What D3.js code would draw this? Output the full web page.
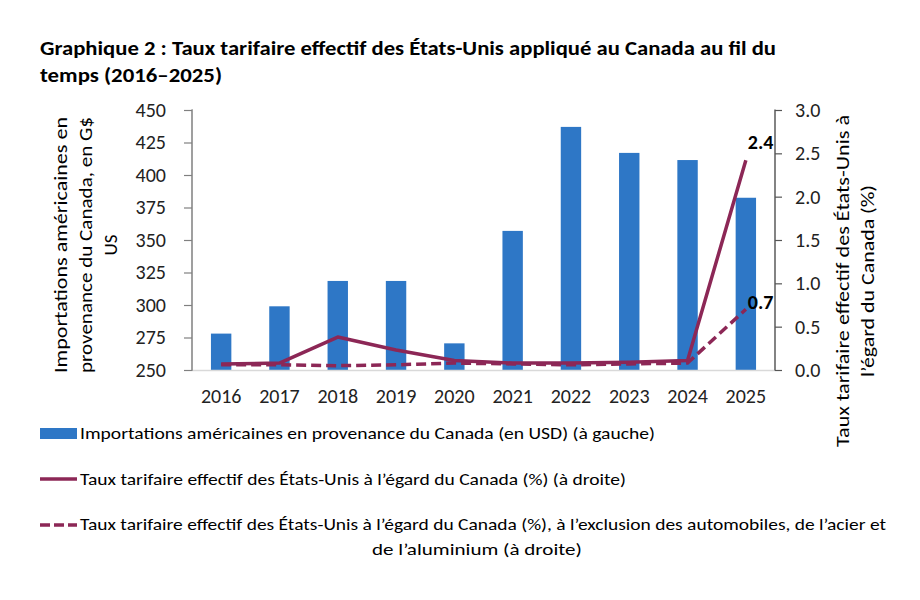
<!DOCTYPE html>
<html><head><meta charset="utf-8">
<script src="https://cdn.jsdelivr.net/npm/d3@7"></script>
<style>body{margin:0;background:#fff} svg{display:block}</style>
</head><body>
<svg id="c" width="920" height="600"></svg>
<script>
// ---- data ----
const years = ["2016","2017","2018","2019","2020","2021","2022","2023","2024","2025"];
const imports = [278, 299, 318.5, 318.5, 270.5, 357, 437, 417, 411.5, 382.5];
const tariff = [0.07, 0.08, 0.38, 0.23, 0.11, 0.08, 0.08, 0.09, 0.11, 2.42];
const tariffExcl = [0.06, 0.06, 0.05, 0.06, 0.08, 0.07, 0.06, 0.07, 0.08, 0.70];
const leftTicks = [250, 275, 300, 325, 350, 375, 400, 425, 450];
const rightTicks = [0, 0.5, 1.0, 1.5, 2.0, 2.5, 3.0];
const endLabels = ["2.4", "0.7"];
const titleLines = ["Graphique 2 : Taux tarifaire effectif des États-Unis appliqué au Canada au fil du", "temps (2016–2025)"];
const leftTitle = ["Importations américaines en", "provenance du Canada, en G$", "US"];
const rightTitle = ["Taux tarifaire effectif des États-Unis à", "l’égard du Canada (%)"];
const legendLabels = [
  "Importations américaines en provenance du Canada (en USD) (à gauche)",
  "Taux tarifaire effectif des États-Unis à l’égard du Canada (%) (à droite)",
  "Taux tarifaire effectif des États-Unis à l’égard du Canada (%), à l’exclusion des automobiles, de l’acier et",
  "de l’aluminium (à droite)"
];

(function () {
// ---- style ----
const FONT = "Carlito, 'Open Sans', sans-serif";
const BAR = "#2E77C6";
const LINE = "#8C2756";
const TICK_FS = 20;
const svg = d3.select("#c").style("font-family", FONT);

const pL = 192, pR = 775, pT = 110, pB = 370;
const x = d3.scaleBand().domain(years).range([pL, pR]).paddingInner(0.65).paddingOuter(0.325);
const xc = d => x(d) + x.bandwidth() / 2;
const yL = d3.scaleLinear().domain([250, 450]).range([pB, pT]);
const yR = d3.scaleLinear().domain([0, 3]).range([pB, pT]);

// title
svg.append("text").attr("x", 40).attr("y", 55).attr("font-weight", "bold").attr("font-size", 19.5)
  .attr("textLength", 736).attr("lengthAdjust", "spacingAndGlyphs").attr("fill", "#000").text(titleLines[0]);
svg.append("text").attr("x", 40).attr("y", 82).attr("font-weight", "bold").attr("font-size", 19.5)
  .attr("textLength", 182).attr("lengthAdjust", "spacingAndGlyphs").attr("fill", "#000").text(titleLines[1]);

// bars
svg.append("g").selectAll("rect").data(years).join("rect")
  .attr("x", d => x(d)).attr("width", x.bandwidth())
  .attr("y", (d, i) => yL(imports[i])).attr("height", (d, i) => pB - yL(imports[i]))
  .attr("fill", BAR);

// x axis baseline
svg.append("line").attr("x1", pL).attr("x2", pR).attr("y1", pB + 0.5).attr("y2", pB + 0.5)
  .attr("stroke", "#d9d9d9").attr("stroke-width", 1.5);

// left axis
const gL = svg.append("g").attr("transform", `translate(${pL},0)`)
  .call(d3.axisLeft(yL).tickValues(leftTicks).tickSize(8).tickPadding(18).tickFormat(d3.format("d")));
gL.select(".domain").attr("stroke", "#808080").attr("stroke-width", 1.5).attr("d", `M-0.5,${pT}H0V${pB}H-0.5`);
gL.selectAll(".tick line").attr("stroke", "#808080").attr("stroke-width", 1.2);
gL.selectAll(".tick text").attr("font-size", TICK_FS).attr("fill", "#222").style("font-family", FONT);

// right axis
const gR = svg.append("g").attr("transform", `translate(${pR},0)`)
  .call(d3.axisRight(yR).tickValues(rightTicks).tickSize(7).tickPadding(13).tickFormat(d3.format(".1f")));
gR.select(".domain").attr("stroke", "#333").attr("stroke-width", 1.2).attr("d", `M0.5,${pT}H0V${pB}H0.5`);
gR.selectAll(".tick line").attr("stroke", "#555").attr("stroke-width", 1.2);
gR.selectAll(".tick text").attr("font-size", TICK_FS).attr("fill", "#222").style("font-family", FONT);

// x axis labels
const gX = svg.append("g").attr("transform", `translate(0,${pB})`)
  .call(d3.axisBottom(x).tickSize(0).tickPadding(19));
gX.select(".domain").remove();
gX.selectAll(".tick text").attr("font-size", TICK_FS).attr("fill", "#222").style("font-family", FONT);

// lines
const lineGen = d3.line().x((d, i) => xc(years[i])).y(d => yR(d));
svg.append("path").datum(tariff).attr("d", lineGen).attr("fill", "none")
  .attr("stroke", LINE).attr("stroke-width", 3.5).attr("stroke-linejoin", "round");
svg.append("path").datum(tariffExcl).attr("d", lineGen).attr("fill", "none")
  .attr("stroke", LINE).attr("stroke-width", 3.5).attr("stroke-dasharray", "10,5");

// end labels
const last = years.length - 1;
const labelOffsets = [[2, -11], [2, 0]];
[tariff, tariffExcl].forEach((s, k) => {
  svg.append("text").attr("x", xc(years[last]) + labelOffsets[k][0]).attr("y", yR(s[last]) + labelOffsets[k][1])
    .attr("font-weight", "bold").attr("font-size", 20).attr("fill", "#000").text(endLabels[k]);
});

// axis titles
const lt = svg.append("g").attr("transform", "translate(0,245) rotate(-90)");
const ltX = [67, 92, 117], ltLen = [256, 256, null];
leftTitle.forEach((t, i) => {
  const el = lt.append("text").attr("x", 0).attr("y", ltX[i]).attr("text-anchor", "middle")
    .attr("font-size", 19).attr("fill", "#000").text(t);
  if (ltLen[i]) el.attr("textLength", ltLen[i]).attr("lengthAdjust", "spacingAndGlyphs");
});
const rt = svg.append("g").attr("transform", "translate(0,281) rotate(-90)");
const rtX = [849, 874], rtLen = [332, 192];
rightTitle.forEach((t, i) => {
  rt.append("text").attr("x", 0).attr("y", rtX[i]).attr("text-anchor", "middle")
    .attr("font-size", 19).attr("fill", "#000")
    .attr("textLength", rtLen[i]).attr("lengthAdjust", "spacingAndGlyphs").text(t);
});

// legend
const lg = svg.append("g");
lg.append("rect").attr("x", 40).attr("y", 428).attr("width", 37).attr("height", 11).attr("fill", BAR);
lg.append("line").attr("x1", 40).attr("x2", 77).attr("y1", 479).attr("y2", 479)
  .attr("stroke", LINE).attr("stroke-width", 3.5);
lg.append("line").attr("x1", 40).attr("x2", 77).attr("y1", 525).attr("y2", 525)
  .attr("stroke", LINE).attr("stroke-width", 3.5).attr("stroke-dasharray", "10,4");
const legPos = [[80, 439, 575, "start"], [80, 485, 546, "start"], [80, 530, 806, "start"], [477, 555, 210, "middle"]];
legendLabels.forEach((t, i) => {
  lg.append("text").attr("x", legPos[i][0]).attr("y", legPos[i][1]).attr("text-anchor", legPos[i][3])
    .attr("font-size", 17).attr("fill", "#000")
    .attr("textLength", legPos[i][2]).attr("lengthAdjust", "spacingAndGlyphs").text(t);
});
})();
</script>
</body></html>
